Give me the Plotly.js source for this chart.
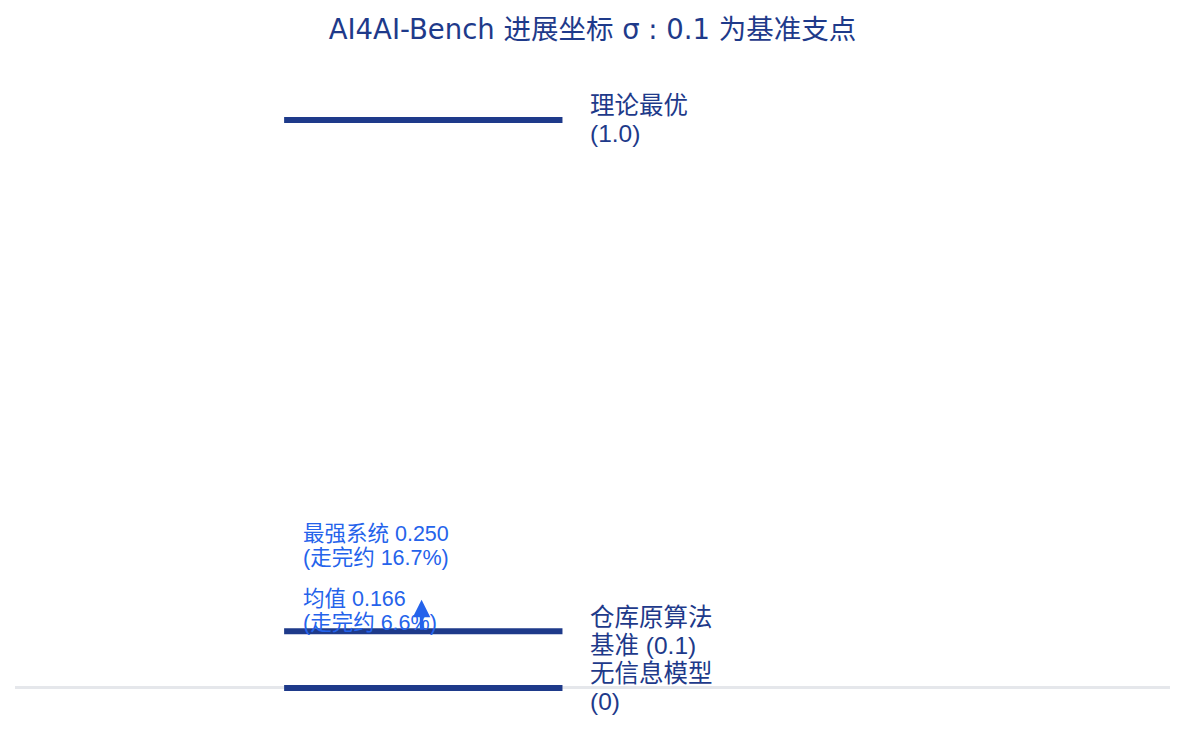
<!DOCTYPE html>
<html>
<head>
<meta charset="utf-8">
<script src="https://cdn.plot.ly/plotly-3.0.1.min.js"></script>
<style>
  html, body { margin: 0; padding: 0; background: #fff; }
  #plot { width: 1185px; height: 732px; }
</style>
</head>
<body>
<div id="plot"></div>
<script>
// reference levels on the progress scale
var levelNames = ['无信息模型<br>(0)', '仓库原算法<br>基准 (0.1)', '理论最优<br>(1.0)'];
var levelValues = [0, 0.1, 1.0];

// measured results
var baselineValue = 0.1;
var meanValue = 0.166;
var meanLabel = '均值 0.166<br>(走完约 6.6%)';
var bestValue = 0.250;
var bestLabel = '最强系统 0.250<br>(走完约 16.7%)';

var navy = '#1e3a8a';
var blue = '#2563eb';
var font = 'Liberation Sans, Arial, Noto Sans CJK SC, sans-serif';
var titleFont = 'DejaVu Sans, Noto Sans CJK SC, sans-serif';

var lineX = [0.233, 0.474];

var traces = levelValues.map(function (v) {
  return {
    x: lineX,
    y: [v, v],
    mode: 'lines',
    line: { color: navy, width: 6 },
    hoverinfo: 'skip',
    showlegend: false
  };
});

// two-line labels, each line placed on its own so the line gap stays tight
function twoLines(text, x, y, yshift, gap, size, color) {
  return text.split('<br>').map(function (line, k) {
    return {
      x: x, y: y, xref: 'x', yref: 'y',
      text: line, showarrow: false,
      xanchor: 'left', yanchor: 'middle', align: 'left',
      yshift: yshift + (k === 0 ? gap / 2 : -gap / 2),
      font: { family: font, size: size, color: color }
    };
  });
}

var annotations = [];
levelNames.forEach(function (name, i) {
  annotations = annotations.concat(twoLines(name, 0.4965, levelValues[i], 0, 28, 24.5, navy));
});

annotations.push({
  x: 0.352, y: meanValue, xref: 'x', yref: 'y',
  ax: 0.352, ay: baselineValue, axref: 'x', ayref: 'y',
  text: '', showarrow: true,
  arrowhead: 2, arrowsize: 1, arrowwidth: 3.5, arrowcolor: blue,
  standoff: 6
});
annotations = annotations.concat(twoLines(meanLabel, 0.2475, meanValue, -17, 24, 21.5, blue));
annotations = annotations.concat(twoLines(bestLabel, 0.2475, bestValue, 0, 24, 21.5, blue));

var layout = {
  width: 1185,
  height: 732,
  margin: { l: 15, r: 15, t: 60, b: 20 },
  paper_bgcolor: '#ffffff',
  plot_bgcolor: '#ffffff',
  title: {
    text: 'AI4AI-Bench 进展坐标 σ : 0.1 为基准支点',
    x: 0.5, xanchor: 'center',
    y: 0.96, yanchor: 'middle',
    font: { family: titleFont, size: 27.5, color: navy }
  },
  xaxis: {
    range: [0, 1],
    showgrid: false, zeroline: false, showticklabels: false, showline: false
  },
  yaxis: {
    range: [-0.0423, 1.1056],
    showgrid: false, showticklabels: false, showline: false,
    zeroline: true, zerolinecolor: '#e5e7eb', zerolinewidth: 3
  },
  annotations: annotations
};

Plotly.newPlot('plot', traces, layout, { displayModeBar: false });
</script>
</body>
</html>
